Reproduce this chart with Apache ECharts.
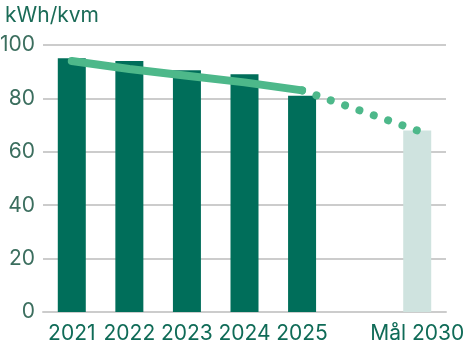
<!DOCTYPE html>
<html><head><meta charset="utf-8">
<script src="https://cdn.jsdelivr.net/npm/echarts@6/dist/echarts.min.js"></script>
<style>html,body{margin:0;padding:0;background:#fff}#c{width:467px;height:349px}</style>
</head><body><div id="c"></div>
<script>
const categories = ['2021','2022','2023','2024','2025','','Mål 2030'];
const barValues = [95, 94, 90.5, 89, 81, null, 68];
const trendValues = [94, 91, 88.5, 86, 83, null, null];
const targetValues = [null, null, null, null, 83, null, 68];
const yTicks = [0, 20, 40, 60, 80, 100];

const dark = '#006e5a', light = '#cfe3df', lineC = '#4db88a';
const chart = echarts.init(document.getElementById('c'), null, {renderer:'canvas'});
chart.setOption({
  animation: false,
  title: { text: 'kWh/kvm', left: 0, top: 0, textStyle: { fontFamily: 'Inter', fontSize: 21, fontWeight: 'normal', color: '#1a6b57' } },
  grid: { left: 43, right: 21, top: 45, bottom: 37, containLabel: false, outerBoundsMode: 'none' },
  xAxis: {
    type: 'category', data: categories,
    axisLine: { show: true, lineStyle: { color: '#cccccc', width: 2 } },
    axisTick: { show: false },
    axisLabel: { fontFamily: 'Inter', fontSize: 21, color: '#0f6b57', margin: 11, interval: 0 }
  },
  yAxis: {
    type: 'value', min: yTicks[0], max: yTicks[yTicks.length-1], interval: 20,
    axisLine: { show: false }, axisTick: { show: false },
    splitLine: { lineStyle: { color: '#cccccc', width: 2 } },
    axisLabel: { fontFamily: 'Inter', fontSize: 21, color: '#3b6e5e', margin: 8 }
  },
  series: [
    { type: 'bar', barWidth: 28,
      data: barValues.map((v, i) => v == null ? null : { value: v, itemStyle: { color: i === 6 ? light : dark } }) },
    { type: 'line', data: trendValues, symbol: 'none', smooth: false,
      lineStyle: { color: lineC, width: 8, cap: 'round', join: 'round' } },
    { type: 'line', data: targetValues, connectNulls: true, symbol: 'none',
      lineStyle: { color: lineC, width: 8, cap: 'round', type: [0.001, 15.18] } }
  ]
});
</script></body></html>
